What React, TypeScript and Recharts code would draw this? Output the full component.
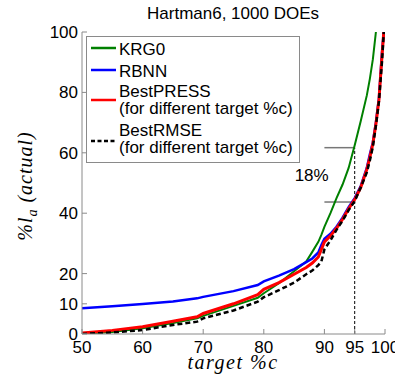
import React from 'react';
import {
  LineChart, Line, XAxis, YAxis, ReferenceLine, ReferenceDot, Legend, Customized,
} from 'recharts';

// target %c (x) shared by all series
const targetPct = [50, 55, 60, 65, 69, 70, 75, 79, 80, 82.5, 85, 87, 88, 89, 89.5, 90, 91, 92, 93, 94, 95, 96, 97, 97.5, 98, 98.5, 99, 99.5, 99.8];

// %l_a (actual) for each surrogate
const krg0 = [0, 0.7, 1.9, 3.6, 5.2, 6, 9.3, 12, 13.5, 16.8, 20.8, 24, 27.2, 30.5, 32.8, 35.5, 40, 45, 49.5, 55, 62.5, 70.5, 79, 84.5, 91, 100, null, null, null];
const rbnn = [8.5, 9.2, 9.9, 10.8, 11.8, 12.3, 14.2, 16.2, 17.4, 19.3, 21.5, 23.8, 25, 27, 29.5, 31.5, 33.2, 35.5, 38.5, 42, 45, 49, 55, 59.5, 63.5, 70, 78, 93, 100];
const bestPress = [0.3, 1.2, 2.4, 4.2, 5.7, 6.8, 10, 13, 14.8, 17, 19.8, 22, 23.5, 25.5, 28, 30.5, 32.5, 35, 38, 41.5, 44.5, 48.5, 54.5, 58.5, 63, 69.5, 77.5, 92, 100];
const bestRmse = [0, 0.5, 1.3, 3, 4.1, 5.2, 7.8, 10.7, 12.2, 14.5, 17, 19.8, 21, 22.8, 24, 28, 31, 34.5, 37.5, 41, 44, 48.5, 53.5, 57.5, 62, 69, 77, 90, 100];

const xTicks = [50, 60, 70, 80, 90, 95, 100];
const yTicks = [0, 10, 20, 40, 60, 80, 100];

// 18% gap marked at target 95%
const gapTop = 61.7;
const gapBottom = 43.7;

const data = targetPct.map((x, i) => ({
  x,
  krg0: krg0[i],
  rbnn: rbnn[i],
  bestPress: bestPress[i],
  bestRmse: bestRmse[i],
}));

const SANS = 'Liberation Sans, Arial, sans-serif';
const SERIF = 'Liberation Serif, Times New Roman, serif';
const AXIS_GRAY = '#8a8a8a';

const legendItems = [
  { name: 'KRG0', sub: null, color: '#008000', width: 2.5, dash: undefined },
  { name: 'RBNN', sub: null, color: '#0000ff', width: 2.5, dash: undefined },
  { name: 'BestPRESS', sub: '(for different target %c)', color: '#ff0000', width: 2.5, dash: undefined },
  { name: 'BestRMSE', sub: '(for different target %c)', color: '#000000', width: 2.5, dash: '4 2.5' },
];

const LegendBox = () => {
  const rows = [
    { line: 12, base: [18.5] },
    { line: 34, base: [40.5] },
    { line: 64, base: [61, 78] },
    { line: 105, base: [100, 117] },
  ];
  return (
    <svg width={215} height={128} style={{ display: 'block' }}>
      <rect x={0.5} y={0.5} width={213} height={126} fill="#fff" stroke={AXIS_GRAY} />
      {legendItems.map((item, i) => (
        <g key={item.name}>
          <line x1={5} x2={30} y1={rows[i].line} y2={rows[i].line}
            stroke={item.color} strokeWidth={item.width} strokeDasharray={item.dash} />
          <text x={33} y={rows[i].base[0]} fontSize={17} fontFamily={SANS} fill="#000">{item.name}</text>
          {item.sub && (
            <text x={33} y={rows[i].base[1]} fontSize={17} fontFamily={SANS} fill="#000">{item.sub}</text>
          )}
        </g>
      ))}
    </svg>
  );
};

const Titles = () => (
  <g>
    <text x={233} y={19} textAnchor="middle" fontSize={17} fontFamily={SANS} fill="#000">
      Hartman6, 1000 DOEs
    </text>
    <text x={233} y={369} textAnchor="middle" fontSize={20} fontStyle="italic"
      fontFamily={SERIF} letterSpacing={1.5} fill="#000">
      target %c
    </text>
    <text x={32} y={186} textAnchor="middle" transform="rotate(-90, 32, 186)"
      fontSize={20} fontStyle="italic" fontFamily={SERIF} letterSpacing={1} fill="#000">
      <tspan>%l</tspan>
      <tspan dy={5} fontSize={14}>a</tspan>
      <tspan dy={-5}> (actual)</tspan>
    </text>
  </g>
);

export default function App() {
  return (
    <div style={{ position: 'absolute', left: 0, top: 0, background: '#fff' }}>
      <LineChart width={395} height={375} data={data}
        margin={{ top: 32, right: 10, bottom: 0, left: 0 }}>
        <XAxis dataKey="x" type="number" domain={[50, 100]} ticks={xTicks} interval={0}
          allowDataOverflow height={41} stroke={AXIS_GRAY} tickSize={-5} tickMargin={12}
          tickLine={{ stroke: AXIS_GRAY }}
          tick={{ fill: '#000', fontSize: 17, fontFamily: SANS }} />
        <XAxis xAxisId="top" orientation="top" type="number" domain={[50, 100]} ticks={xTicks}
          interval={0} allowDataOverflow height={0} stroke={AXIS_GRAY} tickSize={-5}
          tickLine={{ stroke: AXIS_GRAY }} tick={false} />
        <YAxis type="number" domain={[0, 100]} ticks={yTicks} interval={0} allowDataOverflow
          width={82} stroke={AXIS_GRAY} tickSize={-5} tickMargin={9}
          tickLine={{ stroke: AXIS_GRAY }}
          tick={{ fill: '#000', fontSize: 17, fontFamily: SANS }} />
        <YAxis yAxisId="right" orientation="right" type="number" domain={[0, 100]} ticks={yTicks}
          interval={0} allowDataOverflow width={0} stroke={AXIS_GRAY} tickSize={-5}
          tickLine={{ stroke: AXIS_GRAY }} tick={false} />

        <ReferenceLine segment={[{ x: 95, y: 0 }, { x: 95, y: gapTop }]}
          stroke="#000" strokeWidth={1} strokeDasharray="3 2" />
        <ReferenceLine segment={[{ x: 90, y: gapTop }, { x: 95, y: gapTop }]}
          stroke="#777" strokeWidth={1.5} />
        <ReferenceLine segment={[{ x: 90, y: gapBottom }, { x: 95, y: gapBottom }]}
          stroke="#777" strokeWidth={1.5} />

        <Line dataKey="krg0" name="KRG0" stroke="#008000" strokeWidth={2} dot={false}
          isAnimationActive={false} />
        <Line dataKey="rbnn" name="RBNN" stroke="#0000ff" strokeWidth={2.5} dot={false}
          isAnimationActive={false} />
        <Line dataKey="bestPress" name="BestPRESS" stroke="#ff0000" strokeWidth={3} dot={false}
          isAnimationActive={false} />
        <Line dataKey="bestRmse" name="BestRMSE" stroke="#000" strokeWidth={2.5}
          strokeDasharray="5 3" dot={false} isAnimationActive={false} />

        <ReferenceDot x={87.9} y={52.6} r={0} fill="none" stroke="none"
          label={{ value: '18%', position: 'center', fontSize: 17, fontFamily: SANS, fill: '#000' }} />

        <Legend layout="vertical" align="center" verticalAlign="middle"
          wrapperStyle={{ left: 86, top: 36, width: 215, height: 128 }}
          content={() => <LegendBox />} />
        <Customized component={<Titles />} />
      </LineChart>
    </div>
  );
}
